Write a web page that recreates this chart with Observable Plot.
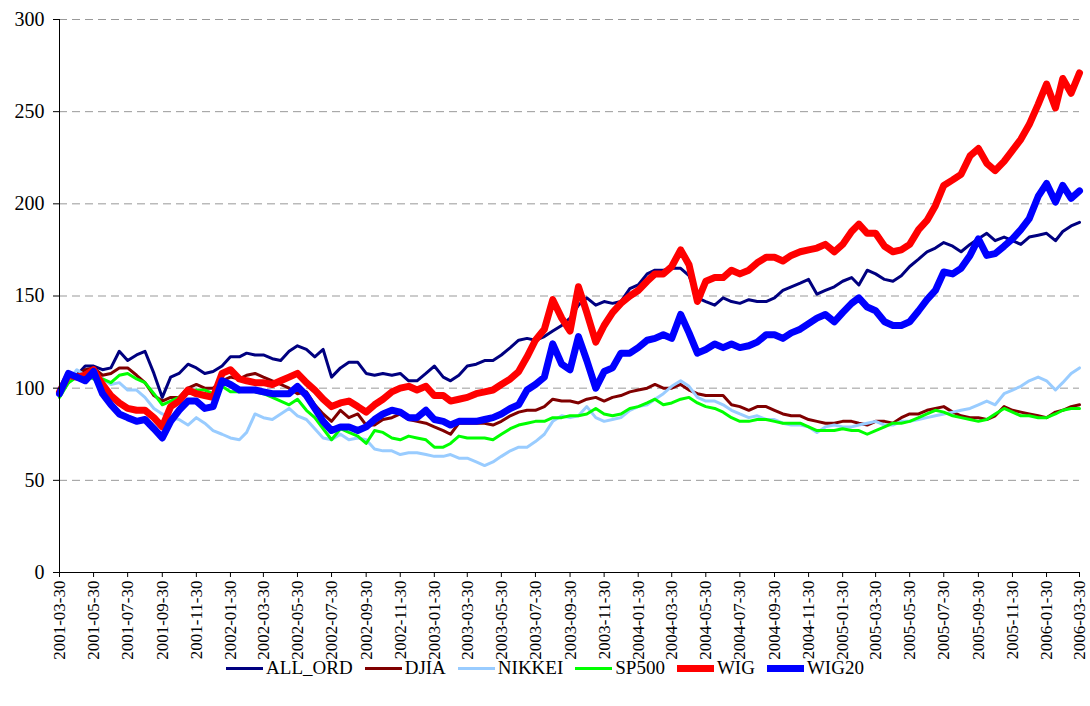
<!DOCTYPE html>
<html><head><meta charset="utf-8">
<script src="https://cdn.jsdelivr.net/npm/d3@7"></script>
<script src="https://cdn.jsdelivr.net/npm/@observablehq/plot@0.6"></script>
<style>
body{margin:0;background:#fff;font-family:'Liberation Serif','Times New Roman','DejaVu Serif',Times,serif;}
#chart{position:relative;width:1090px;height:706px;overflow:hidden;}
#legend{position:absolute;left:0;top:656px;width:1090px;height:24px;display:flex;justify-content:center;align-items:center;font-size:19px;color:#000;font-family:'Liberation Serif','Times New Roman','DejaVu Serif',Times,serif;}
.item{display:flex;align-items:center;margin:0 6px;}
.swatch{width:37px;margin-right:3px;}
svg text{font-family:'Liberation Serif','Times New Roman','DejaVu Serif',Times,serif;}
</style></head><body><div id="chart"><div id="legend"></div></div>
<script>
// semi-monthly sample dates: month-ends (30th) and mid-months, 2001-03-30 .. 2006-03-30
const dates = d3.range(121).map(k => {
  if (k % 2 === 0) {
    const m = 2 + k / 2;
    const dim = new Date(Date.UTC(2001, m + 1, 0)).getUTCDate();
    return new Date(Date.UTC(2001, m, Math.min(30, dim)));
  }
  return new Date(Date.UTC(2001, 2 + (k + 1) / 2, 15));
});

const ALL_ORD = [97,103,107,112,112,110,111,120,115,118,
 120,108,95,106,108,113,111,108,109,112,
 117,117,119,118,118,116,115,120,123,121,
 117,121,106,111,114,114,108,107,108,107,
 108,104,104,108,112,106,104,107,112,113,
 115,115,118,122,126,127,126,128,131,134,
 138,145,149,145,147,146,147,154,156,162,
 164,164,165,165,161,149,147,145,149,147,
 146,148,147,147,149,153,155,157,159,151,
 153,155,158,160,156,164,162,159,158,161,
 166,170,174,176,179,177,174,178,181,184,
 180,182,180,178,182,183,184,180,185,188,
 190];
const DJIA = [98,104,107,110,111,107,108,111,111,107,
 103,96,93,95,95,100,102,100,100,104,
 106,105,107,108,106,104,102,100,97,98,
 91,86,82,88,84,86,80,80,83,84,
 86,83,82,81,79,77,75,81,81,81,
 81,80,82,85,87,88,88,90,94,93,
 93,92,94,95,93,95,96,98,99,100,
 102,100,100,102,99,97,96,96,96,91,
 90,88,90,90,88,86,85,85,83,82,
 81,81,82,82,81,80,82,82,81,84,
 86,86,88,89,90,87,85,84,84,83,
 85,90,88,87,86,85,84,87,88,90,
 91];
const NIKKEI = [98,104,110,107,105,105,102,103,99,99,
 95,89,86,84,83,80,84,81,77,75,
 73,72,76,86,84,83,86,89,85,83,
 78,73,72,75,72,73,72,67,66,66,
 64,65,65,64,63,63,64,62,62,60,
 58,60,63,66,68,68,71,75,82,85,
 84,85,90,84,82,83,84,88,90,91,
 94,97,101,104,101,95,93,93,91,88,
 86,84,85,83,83,81,80,80,79,76,
 79,80,79,79,80,81,82,80,80,82,
 82,83,84,85,86,87,88,89,91,93,
 91,97,99,101,104,106,104,99,103,108,
 111];
const SP500 = [95,103,106,107,105,105,103,107,108,105,
 103,97,91,93,95,97,99,99,97,101,
 98,98,99,98,97,95,93,91,94,88,
 84,78,72,78,76,74,70,77,76,73,
 72,74,73,72,68,68,70,74,73,73,
 73,72,75,78,80,81,82,82,84,84,
 85,85,86,89,86,85,86,89,90,92,
 94,91,92,94,95,92,90,89,87,84,
 82,82,83,83,82,81,81,81,79,77,
 77,77,78,77,77,75,77,79,81,81,
 82,84,86,88,87,85,84,83,82,83,
 86,89,87,85,85,84,84,86,88,89,
 89];
const WIG = [98,107,106,107,110,102,96,92,89,88,
 88,84,79,90,93,99,97,96,95,108,
 110,105,104,103,103,102,104,106,108,103,
 99,94,90,92,93,90,87,91,94,98,
 100,101,99,101,96,96,93,94,95,97,
 98,99,102,105,109,117,126,132,148,138,
 131,155,141,125,134,141,146,150,153,158,
 162,162,166,175,167,147,158,160,160,164,
 162,164,168,171,171,169,172,174,175,176,
 178,174,178,185,189,184,184,177,174,175,
 178,186,191,199,210,213,216,226,230,222,
 218,223,229,235,243,254,265,252,268,260,
 271];
const WIG20 = [97,108,106,104,109,97,91,86,84,82,
 83,78,73,82,88,93,93,89,90,104,
 102,99,99,99,98,97,97,97,101,96,
 89,82,77,79,79,77,79,83,86,88,
 87,84,84,88,83,82,80,82,82,82,
 83,84,86,89,91,99,102,106,124,113,
 110,128,115,100,109,111,119,119,122,126,
 127,129,127,140,130,119,121,124,122,124,
 122,123,125,129,129,127,130,132,135,138,
 140,136,141,146,149,144,142,136,134,134,
 136,142,148,153,163,162,165,172,181,172,
 173,177,181,186,192,204,211,201,210,203,
 207];

const seriesNames = ["ALL_ORD","DJIA","NIKKEI","SP500","WIG","WIG20"];
const seriesColors = ["#000080","#800000","#99CCFF","#00FF00","#FF0000","#0000FF"];
const seriesWidths = [3,3,3,3,7,7];
const seriesValues = [ALL_ORD, DJIA, NIKKEI, SP500, WIG, WIG20];
const yTicks = [0,50,100,150,200,250,300];
const gridVals = [50,100,150,200,250,300];
const xTicks = dates.filter((d,k) => k % 4 === 0);

const data = seriesNames.flatMap((name,s) => seriesValues[s].map((v,i) => ({name, date: dates[i], value: v})));

const FONT = "'Liberation Serif', 'Times New Roman', 'DejaVu Serif', Times, serif";
const plot = Plot.plot({
  width: 1090, height: 660,
  marginLeft: 59, marginRight: 11, marginTop: 19, marginBottom: 88,
  style: {fontFamily: FONT, fontSize: "18px", overflow: "visible", background: "#fff", color: "#000"},
  x: {type: "utc", domain: [dates[0], dates[120]]},
  y: {domain: [0, 300]},
  marks: [
    Plot.ruleY(gridVals, {stroke: "#999999", strokeDasharray: "8,5", strokeWidth: 1}),
    ...seriesNames.map((name, s) => Plot.line(data.filter(d => d.name === name), {
      x: "date", y: "value", stroke: seriesColors[s], strokeWidth: seriesWidths[s], strokeLinejoin: "round"
    })),
    Plot.ruleY([0], {stroke: "#000", strokeWidth: 1}),
    Plot.ruleX([dates[0]], {stroke: "#000", strokeWidth: 1}),
    Plot.axisY({ticks: yTicks, tickSize: 6, tickPadding: 9, fontSize: 20, label: null}),
    Plot.axisX({ticks: xTicks, tickFormat: d3.utcFormat("%Y-%m-%d"), tickRotate: -90, tickSize: 5, tickPadding: 3, fontSize: 17, label: null})
  ]
});
document.getElementById("chart").prepend(plot);

const legend = document.getElementById("legend");
seriesNames.forEach((name, s) => {
  const item = document.createElement("div");
  item.className = "item";
  const sw = document.createElement("div");
  sw.className = "swatch";
  sw.style.height = (seriesWidths[s] > 4 ? 7 : 3) + "px";
  sw.style.background = seriesColors[s];
  const t = document.createElement("span");
  t.textContent = name;
  item.append(sw, t);
  legend.append(item);
});
</script>
</body></html>
